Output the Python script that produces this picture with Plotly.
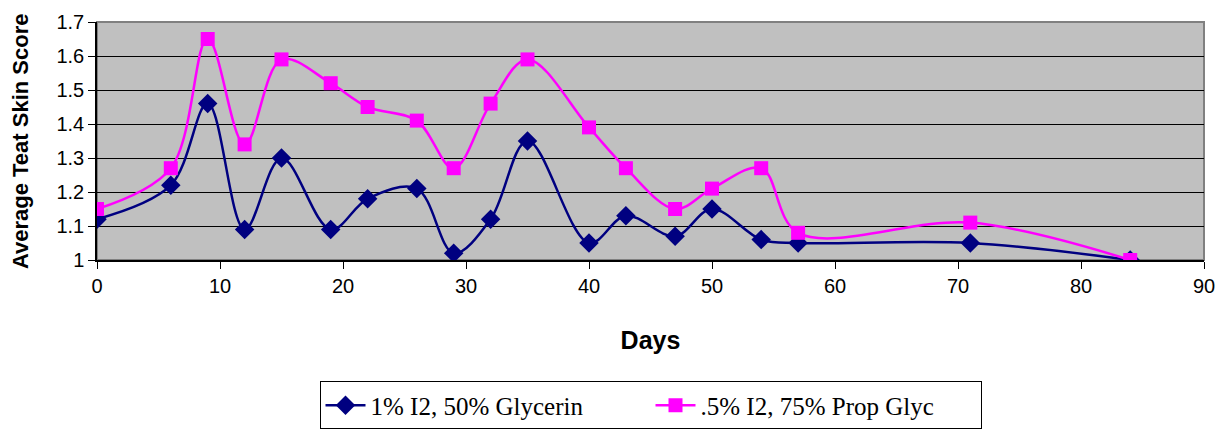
import plotly.graph_objects as go

days = [0, 6, 9, 12, 15, 19, 22, 26, 29, 32, 35, 40, 43, 47, 50, 54, 57, 71, 84]
glycerin = [1.12, 1.22, 1.46, 1.09, 1.30, 1.09, 1.18, 1.21, 1.02, 1.12, 1.35, 1.05, 1.13, 1.07, 1.15, 1.06, 1.05, 1.05, 1.00]
prop_glyc = [1.15, 1.27, 1.65, 1.34, 1.59, 1.52, 1.45, 1.41, 1.27, 1.46, 1.59, 1.39, 1.27, 1.15, 1.21, 1.27, 1.08, 1.11, 1.00]
name_a = "1% I2, 50% Glycerin"
name_b = ".5% I2, 75% Prop Glyc"
x_ticks = [0, 10, 20, 30, 40, 50, 60, 70, 80, 90]
y_ticks = [1, 1.1, 1.2, 1.3, 1.4, 1.5, 1.6, 1.7]
y_title = "Average Teat Skin Score"

fig = go.Figure()
fig.add_trace(go.Scatter(
    x=days, y=glycerin, name=name_a, mode="lines+markers",
    line=dict(color="#000080", width=2.5, shape="spline", smoothing=1),
    marker=dict(symbol="diamond", size=15, color="#000080"),
))
fig.add_trace(go.Scatter(
    x=days, y=prop_glyc, name=name_b, mode="lines+markers",
    line=dict(color="#FF00FF", width=2.5, shape="spline", smoothing=1),
    marker=dict(symbol="square", size=14, color="#FF00FF"),
))

fig.add_shape(type="rect", xref="paper", yref="paper", x0=0, y0=0, x1=1, y1=1,
              line=dict(color="#808080", width=2), layer="below")

# y-axis title placed as a rotated annotation to match the reference position
fig.add_annotation(text="<b>" + y_title + "</b>", textangle=-90,
                   xref="paper", yref="paper", x=-0.0695, y=0.5,
                   xanchor="center", yanchor="middle", showarrow=False,
                   font=dict(size=22, family="Liberation Sans, Arial", color="black"))

# page body has an 8px margin, so the figure is sized/margined to compensate
fig.update_layout(
    width=1215, height=421,
    margin=dict(l=89, r=19, t=14, b=169, autoexpand=False),
    paper_bgcolor="white", plot_bgcolor="#C0C0C0",
    font=dict(family="Liberation Sans, Arial", size=20, color="black"),
    showlegend=True,
    legend=dict(orientation="h", x=0.5, xanchor="center", y=-0.51, yanchor="top",
                bordercolor="black", borderwidth=1, bgcolor="white",
                font=dict(family="Liberation Serif, Times New Roman", size=25, color="black"),
                itemwidth=40, entrywidth=275),
)
fig.update_xaxes(
    range=[0, 90], tickvals=x_ticks, showgrid=False, zeroline=False,
    showline=True, linecolor="black", linewidth=1.5, automargin=False,
    ticks="outside", ticklen=7, tickcolor="black", tickfont=dict(size=20),
    title=dict(text="<b>Days</b>", font=dict(size=25), standoff=36),
)
fig.update_yaxes(
    range=[1, 1.7], tickvals=y_ticks, ticktext=[str(v) for v in y_ticks],
    showgrid=True, gridcolor="black", gridwidth=1, zeroline=False,
    showline=True, linecolor="black", linewidth=1.5, automargin=False,
    ticks="outside", ticklen=7, tickcolor="black", tickfont=dict(size=20),
)

fig.write_html("out.html")
